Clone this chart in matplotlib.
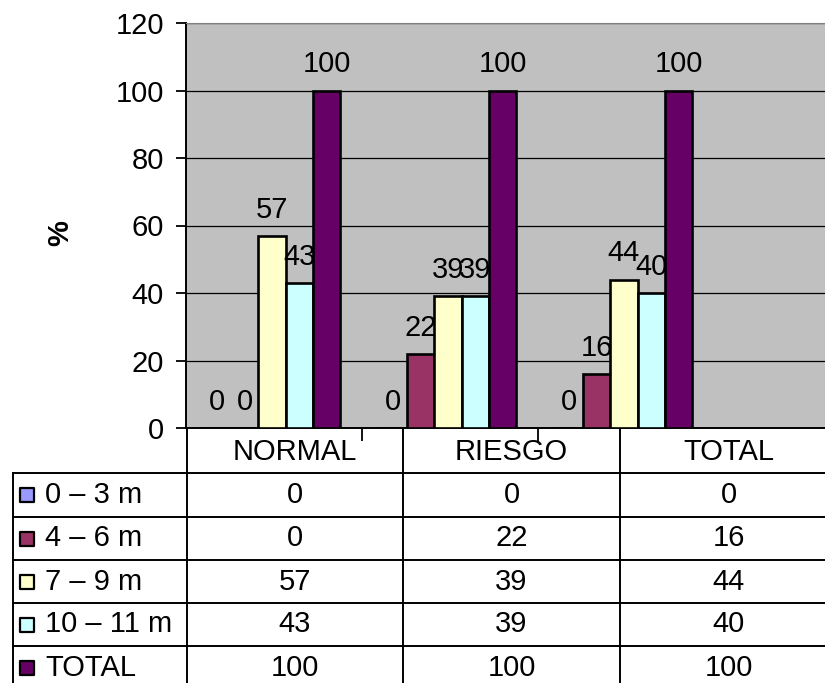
import matplotlib.pyplot as plt
import numpy as np

plt.rcParams['font.family'] = ['Liberation Sans', 'DejaVu Sans']

categories = ['NORMAL', 'RIESGO', 'TOTAL']
series_names = ['0 – 3 m', '4 – 6 m', '7 – 9 m', '10 – 11 m', 'TOTAL']
v_0_3 = [0, 0, 0]
v_4_6 = [0, 22, 16]
v_7_9 = [57, 39, 44]
v_10_11 = [43, 39, 40]
v_total = [100, 100, 100]
series_values = [v_0_3, v_4_6, v_7_9, v_10_11, v_total]
colors = ['#9999FF', '#993366', '#FFFFCC', '#CCFFFF', '#660066']
yticks = [0, 20, 40, 60, 80, 100, 120]

W, H = 825, 683
FS = 21
fig = plt.figure(figsize=(W / 100, H / 100), dpi=100)

# data table under the chart, laid out in pixel units
tab = fig.add_axes([0, 0, 1, 1])
tab.set_xlim(0, W)
tab.set_ylim(H, 0)
tab.axis('off')
col_edges = [187, 403, 620, 837]
row_edges = [428, 473, 517, 560, 603, 646, 689]
left_edge = 13
lw = 1.4
for x in col_edges:
    tab.plot([x, x], [row_edges[0], row_edges[-1]], color='black', lw=lw)
tab.plot([left_edge, left_edge], [row_edges[1], row_edges[-1]], color='black', lw=lw)
for y in row_edges[1:-1]:
    tab.plot([left_edge, W + 20], [y, y], color='black', lw=lw)
for j, cat in enumerate(categories):
    cx = (col_edges[j] + col_edges[j + 1]) / 2
    tab.text(cx, (row_edges[0] + row_edges[1]) / 2 + 1, cat, ha='center', va='center', fontsize=FS)
for i, (name, vals) in enumerate(zip(series_names, series_values)):
    cy = (row_edges[i + 1] + row_edges[i + 2]) / 2
    tab.scatter([27], [cy], marker='s', s=105, color=colors[i], edgecolor='black', linewidth=1.6)
    tab.text(45, cy, name, ha='left', va='center', fontsize=FS)
    for j, v in enumerate(vals):
        cx = (col_edges[j] + col_edges[j + 1]) / 2
        tab.text(cx, cy, str(v), ha='center', va='center', fontsize=FS)

# clustered columns
ax = fig.add_axes([186 / W, (H - 428) / H, (W - 186) / W, 405 / H])
ax.set_facecolor('#C0C0C0')
cat_px = 176
ax.set_xlim(-0.5, -0.5 + (W - 186) / cat_px)
ax.set_ylim(0, 120)
x = np.arange(len(categories))
bw = 27.3 / cat_px
for k, vals in enumerate(series_values):
    pos = x + (k - 2) * bw - 0.012
    ax.bar(pos, vals, width=bw, color=colors[k], edgecolor='black', linewidth=1.9, zorder=3)
    for px, v in zip(pos, vals):
        ax.annotate(str(v), (px, v), xytext=(0, 13), textcoords='offset points',
                    ha='center', va='baseline', fontsize=FS, zorder=4)

ax.set_yticks(yticks)
ax.set_yticklabels([str(t) for t in yticks], fontsize=FS)
ax.yaxis.grid(True, color='black', linewidth=0.9, zorder=1)
ax.set_axisbelow(True)
ax.tick_params(axis='y', direction='out', length=7, width=1.3, pad=9)
ax.set_xticks([0.5, 1.5])
ax.set_xticklabels([])
ax.tick_params(axis='x', direction='out', length=9, width=1.3)
ax.spines['right'].set_visible(False)
ax.spines['top'].set_color('#808080')
ax.spines['left'].set_linewidth(1.4)
ax.spines['bottom'].set_linewidth(1.4)

fig.text(60 / W, 1 - 233 / H, '%', rotation=90, ha='center', va='center',
         fontsize=FS, fontweight='bold')

fig.savefig('out.png', dpi=100)
